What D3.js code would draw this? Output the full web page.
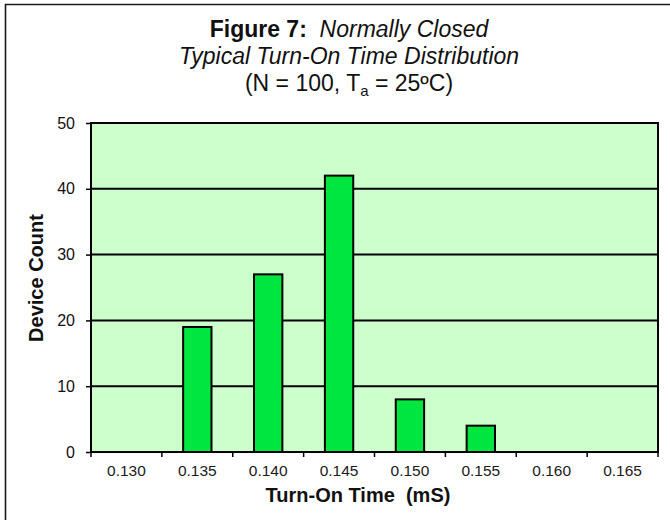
<!DOCTYPE html>
<html><head><meta charset="utf-8">
<script src="https://cdn.jsdelivr.net/npm/d3@7"></script>
<style>body{margin:0;background:#fff}svg{display:block}text{font-family:"Liberation Sans",Arial,sans-serif;fill:#111;white-space:pre}</style>
</head><body><svg id="c" width="670" height="520"></svg>
<script>
const categories = ["0.130","0.135","0.140","0.145","0.150","0.155","0.160","0.165"];
const counts = [0,19,27,42,8,4,0,0];
const yTicks = [0,10,20,30,40,50];

const svg = d3.select("#c");
const m = {l:91, r:658, t:123, b:452};
// outer chart frame (only top and left edges visible)
svg.append("path").attr("d","M5.5,520 L5.5,4.5 L670,4.5").attr("fill","none").attr("stroke","#1a1a1a").attr("stroke-width",1.6);

const xb = d3.scaleBand().domain(categories).range([m.l,m.r]);
const y = d3.scaleLinear().domain([0,50]).range([m.b,m.t]);

svg.append("rect").attr("x",m.l).attr("y",m.t).attr("width",m.r-m.l).attr("height",m.b-m.t).attr("fill","#ccffcc");

// gridlines
svg.append("g").selectAll("line").data(yTicks.filter(d=>d>0&&d<50)).join("line")
  .attr("x1",m.l).attr("x2",m.r).attr("y1",d=>y(d)).attr("y2",d=>y(d))
  .attr("stroke","#000").attr("stroke-width",2);

// bars
svg.append("g").selectAll("rect").data(categories.map((c,i)=>({c,v:counts[i]})).filter(d=>d.v>0)).join("rect")
  .attr("x",d=>xb(d.c)+xb.bandwidth()*0.3).attr("width",xb.bandwidth()*0.4)
  .attr("y",d=>y(d.v)).attr("height",d=>y(0)-y(d.v))
  .attr("fill","#00e640").attr("stroke","#000").attr("stroke-width",2);

svg.append("rect").attr("x",m.l).attr("y",m.t).attr("width",m.r-m.l).attr("height",m.b-m.t)
  .attr("fill","none").attr("stroke","#000").attr("stroke-width",2);

// y axis
const ya = svg.append("g").attr("transform",`translate(${m.l},0)`)
  .call(d3.axisLeft(y).tickValues(yTicks).tickSize(5).tickPadding(11));
ya.select(".domain").remove();
ya.selectAll("line").attr("stroke","#000").attr("stroke-width",1.5);
ya.selectAll("text").style("font-size","16px").attr("fill","#1a1a1a");

// x axis ticks at band boundaries
const bounds = categories.map(c=>xb(c)).concat([m.r]);
svg.append("g").selectAll("line").data(bounds).join("line")
  .attr("x1",d=>d).attr("x2",d=>d).attr("y1",m.b).attr("y2",m.b+5).attr("stroke","#000").attr("stroke-width",1.5);
svg.append("g").selectAll("text").data(categories).join("text")
  .attr("x",d=>xb(d)+xb.bandwidth()/2).attr("y",m.b+24).attr("text-anchor","middle")
  .style("font-size","15.5px").style("fill","#1a1a1a").text(d=>d);

// axis titles
svg.append("text").attr("x",358).attr("y",502).attr("text-anchor","middle")
  .style("font-size","20px").style("font-weight","bold").text("Turn-On Time  (mS)");
svg.append("text").attr("transform",`translate(43,278) rotate(-90)`).attr("text-anchor","middle")
  .style("font-size","20px").style("font-weight","bold").text("Device Count");

// title
const cx = 349;
const t1 = svg.append("text").attr("x",cx).attr("y",37).attr("text-anchor","middle").style("font-size","23px");
t1.append("tspan").style("font-weight","bold").text("Figure 7:  ");
t1.append("tspan").style("font-style","italic").text("Normally Closed");
svg.append("text").attr("x",cx).attr("y",64).attr("text-anchor","middle").style("font-size","23px")
  .style("font-style","italic").text("Typical Turn-On Time Distribution");
const t3 = svg.append("text").attr("x",cx).attr("y",91).attr("text-anchor","middle").style("font-size","23px");
t3.append("tspan").text("(N = 100, T");
t3.append("tspan").attr("dy",5).style("font-size","15px").text("a");
t3.append("tspan").attr("dy",-5).text(" = 25ºC)");
</script></body></html>
